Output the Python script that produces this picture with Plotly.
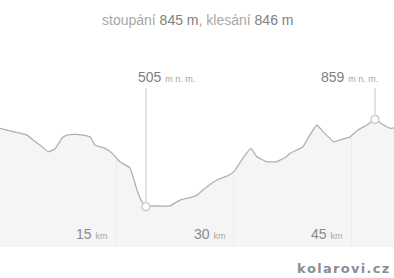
import numpy as np
import plotly.graph_objects as go

# distance along route (km) and elevation (m n. m.)
km = [0.0, 1.40, 2.68, 3.58, 4.34, 5.24, 6.26, 7.15, 8.05, 8.68, 9.71, 10.73, 11.62,
      12.26, 13.54, 14.43, 15.45, 16.73, 17.62, 18.26, 18.77, 19.28, 21.84, 22.48, 23.12,
      24.39, 25.29, 26.56, 27.84, 29.12, 30.01, 31.16, 32.18, 32.95, 34.23, 35.38, 36.53,
      37.16, 38.83, 39.46, 40.61, 41.38, 42.78, 43.81, 44.83, 45.72, 47.00, 48.02, 48.91,
      50.06, 50.45]
elev = [823, 812, 803, 795, 775, 755, 728, 739, 783, 795, 798, 795, 788,
        755, 741, 722, 687, 662, 573, 525, 505, 508, 508, 520, 532,
        542, 552, 586, 613, 629, 647, 702, 741, 707, 687, 687, 703,
        721, 748, 783, 836, 809, 768, 778, 788, 813, 836, 859, 840,
        822, 824]
tick_km = [15, 30, 45]
tick_labels = ["15", "30", "45"]
climb, descent = 845, 846
min_i = int(np.argmin(elev))
max_i = int(np.argmax(elev))

W, H = 394, 278
PLOT_H = 247
Y0, Y1 = 341.8, 1342.2
X0, X1 = 0.128, 50.45


def py(px):  # pixel row -> paper y
    return (PLOT_H - px) / PLOT_H


def px_to_elev(px):
    return Y0 + (PLOT_H - px) / PLOT_H * (Y1 - Y0)


fig = go.Figure()
fig.add_trace(go.Scatter(x=km, y=elev, mode="lines", fill="tozeroy",
                         fillcolor="#f5f5f5",
                         line=dict(color="#b0b0b0", width=1.3, shape="spline", smoothing=0.3),
                         hoverinfo="skip"))

shapes = []
for t in tick_km:
    shapes.append(dict(type="line", xref="x", yref="y", x0=t, x1=t, y0=Y0,
                       y1=float(np.interp(t, km, elev)) - 4,
                       line=dict(color="#ebebeb", width=1), layer="above"))
for i in (min_i, max_i):
    shapes.append(dict(type="line", xref="x", yref="y", x0=km[i], x1=km[i],
                       y0=px_to_elev(88), y1=elev[i] + 10,
                       line=dict(color="#e2e2e2", width=2), layer="above"))
fig.update_layout(shapes=shapes)

fig.add_trace(go.Scatter(x=[km[min_i], km[max_i]], y=[elev[min_i], elev[max_i]], mode="markers",
                         marker=dict(size=8, color="white", line=dict(color="#c4c4c4", width=1.2)),
                         hoverinfo="skip"))

F = "Liberation Sans, Arial, sans-serif"
ann = []
ann.append(dict(xref="paper", yref="paper", x=0.5, y=py(20), xanchor="center", yanchor="middle",
                showarrow=False, font=dict(family=F, size=14, color="#a8a8a8"),
                text=f"stoupání <span style='color:#808080'>{climb} m</span>, klesání "
                     f"<span style='color:#808080'>{descent} m</span>"))
unit = "<span style='font-size:9px;color:#a4a4a4'>m n. m.</span>"
ann.append(dict(xref="paper", yref="paper", x=136 / W, y=py(77), xanchor="left", yanchor="middle",
                showarrow=False, font=dict(family=F, size=14, color="#808080"),
                text=f"{elev[min_i]} {unit}"))
ann.append(dict(xref="paper", yref="paper", x=380 / W, y=py(77), xanchor="right", yanchor="middle",
                showarrow=False, font=dict(family=F, size=14, color="#808080"),
                text=f"{elev[max_i]} {unit}"))
for t, lab in zip(tick_km, tick_labels):
    ann.append(dict(xref="x", yref="paper", x=t, y=py(234), xanchor="right", yanchor="middle",
                    xshift=-7, showarrow=False, font=dict(family=F, size=14, color="#8a8a8a"),
                    text=f"{lab} <span style='font-size:9px;color:#a8a8a8'>km</span>"))
ann.append(dict(xref="paper", yref="paper", x=391 / W, y=py(268), xanchor="right", yanchor="middle",
                showarrow=False, font=dict(family="DejaVu Sans, Verdana", size=13, color="#8a8e94",
                                           weight="bold"),
                text="\u200a".join("kolarovi.cz")))
fig.update_layout(annotations=ann)

fig.update_layout(width=W, height=H, margin=dict(l=0, r=0, t=0, b=H - PLOT_H),
                  paper_bgcolor="white", plot_bgcolor="white", showlegend=False,
                  xaxis=dict(range=[X0, X1], visible=False, fixedrange=True),
                  yaxis=dict(range=[Y0, Y1], visible=False, fixedrange=True))
fig.write_html("out.html", config={"displayModeBar": False})
